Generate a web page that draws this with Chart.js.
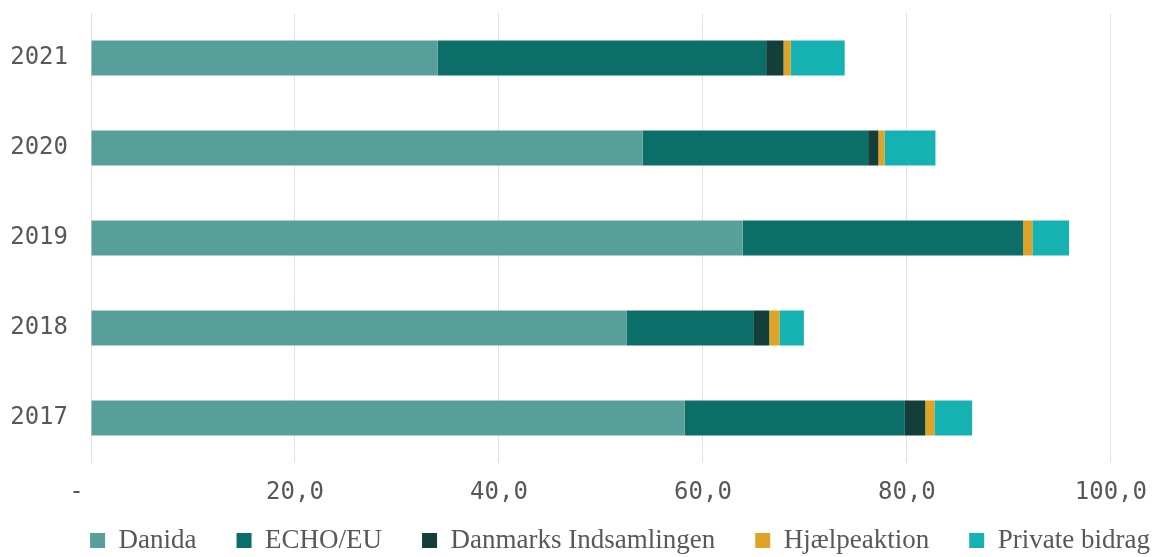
<!DOCTYPE html>
<html>
<head>
<meta charset="utf-8">
<script src="https://cdn.jsdelivr.net/npm/chart.js@4/dist/chart.umd.min.js"></script>
<style>
  html, body { margin: 0; padding: 0; background: #fff; }
  #wrap { width: 1162px; height: 557px; }
</style>
</head>
<body>
<div id="wrap"><canvas id="chart"></canvas></div>
<script>
// years, top to bottom
const years = ['2021', '2020', '2019', '2018', '2017'];

// amounts per source (mio. kr)
const danida = [34.0, 54.1, 63.9, 52.5, 58.2];
const echoEu = [32.2, 22.1, 27.5, 12.5, 21.6];
const danmarksIndsamlingen = [1.7, 1.0, 0.0, 1.5, 2.0];
const hjaelpeaktion = [0.7, 0.6, 0.9, 1.0, 0.9];
const privateBidrag = [5.3, 5.0, 3.6, 2.4, 3.7];

const xTicks = [0, 20, 40, 60, 80, 100];

const monoFont = "'DejaVu Sans Mono', 'Liberation Mono', monospace";
const serifFont = "'Liberation Serif', 'DejaVu Serif', serif";

// legend: fixed height, then nudged up/right like the original
const legendTweak = {
    id: 'legendTweak',
    beforeInit(chart) {
        const origFit = chart.legend.fit;
        chart.legend.fit = function () {
            origFit.call(this);
            this.height = 51;
        };
    },
    afterLayout(chart) {
        chart.legend.left += 39;
        chart.legend.right += 39;
        chart.legend.top -= 19;  // bottom stays, so nothing is clipped
    }
};

const ctx = document.getElementById('chart').getContext('2d');
const chart = new Chart(ctx, {
    type: 'bar',
    data: {
        labels: years,
        datasets: [
            { label: 'Danida', data: danida, backgroundColor: '#589f9b' },
            { label: 'ECHO/EU', data: echoEu, backgroundColor: '#0b6e69' },
            { label: 'Danmarks Indsamlingen', data: danmarksIndsamlingen, backgroundColor: '#133e3a' },
            { label: 'Hjælpeaktion', data: hjaelpeaktion, backgroundColor: '#dea427' },
            { label: 'Private bidrag', data: privateBidrag, backgroundColor: '#16b2b1' }
        ]
    },
    plugins: [legendTweak],
    options: {
        indexAxis: 'y',
        responsive: true,
        maintainAspectRatio: false,
        animation: false,
        layout: {
            padding: { top: 13, left: 0, right: 0, bottom: 0 }
        },
        datasets: {
            bar: {
                barPercentage: 0.78,
                categoryPercentage: 0.5,
                borderWidth: 0
            }
        },
        scales: {
            x: {
                stacked: true,
                min: 0,
                max: 104,
                afterBuildTicks: (axis) => {
                    axis.ticks = xTicks.map(v => ({ value: v }));
                },
                afterFit: (axis) => { axis.height = 43; },
                grid: {
                    color: '#e2e2e2',
                    lineWidth: 1,
                    drawTicks: false
                },
                border: { display: false },
                ticks: {
                    padding: 15,
                    color: '#585858',
                    font: { family: monoFont, size: 24 },
                    callback: (v) => v === 0 ? '-  ' : v.toFixed(1).replace('.', ',')
                }
            },
            y: {
                stacked: true,
                afterFit: (axis) => {
                    axis.width = 91;
                    axis.paddingTop = 0;
                    axis.paddingBottom = 0;
                },
                grid: { display: false, drawTicks: false },
                border: { display: false },
                ticks: {
                    padding: 23,
                    color: '#585858',
                    font: { family: monoFont, size: 24 }
                }
            }
        },
        plugins: {
            legend: {
                position: 'bottom',
                labels: {
                    boxWidth: 15,
                    boxHeight: 15,
                    padding: 40,
                    color: '#585858',
                    font: { family: serifFont, size: 27 }
                }
            },
            tooltip: { enabled: false }
        }
    }
});
</script>
</body>
</html>
